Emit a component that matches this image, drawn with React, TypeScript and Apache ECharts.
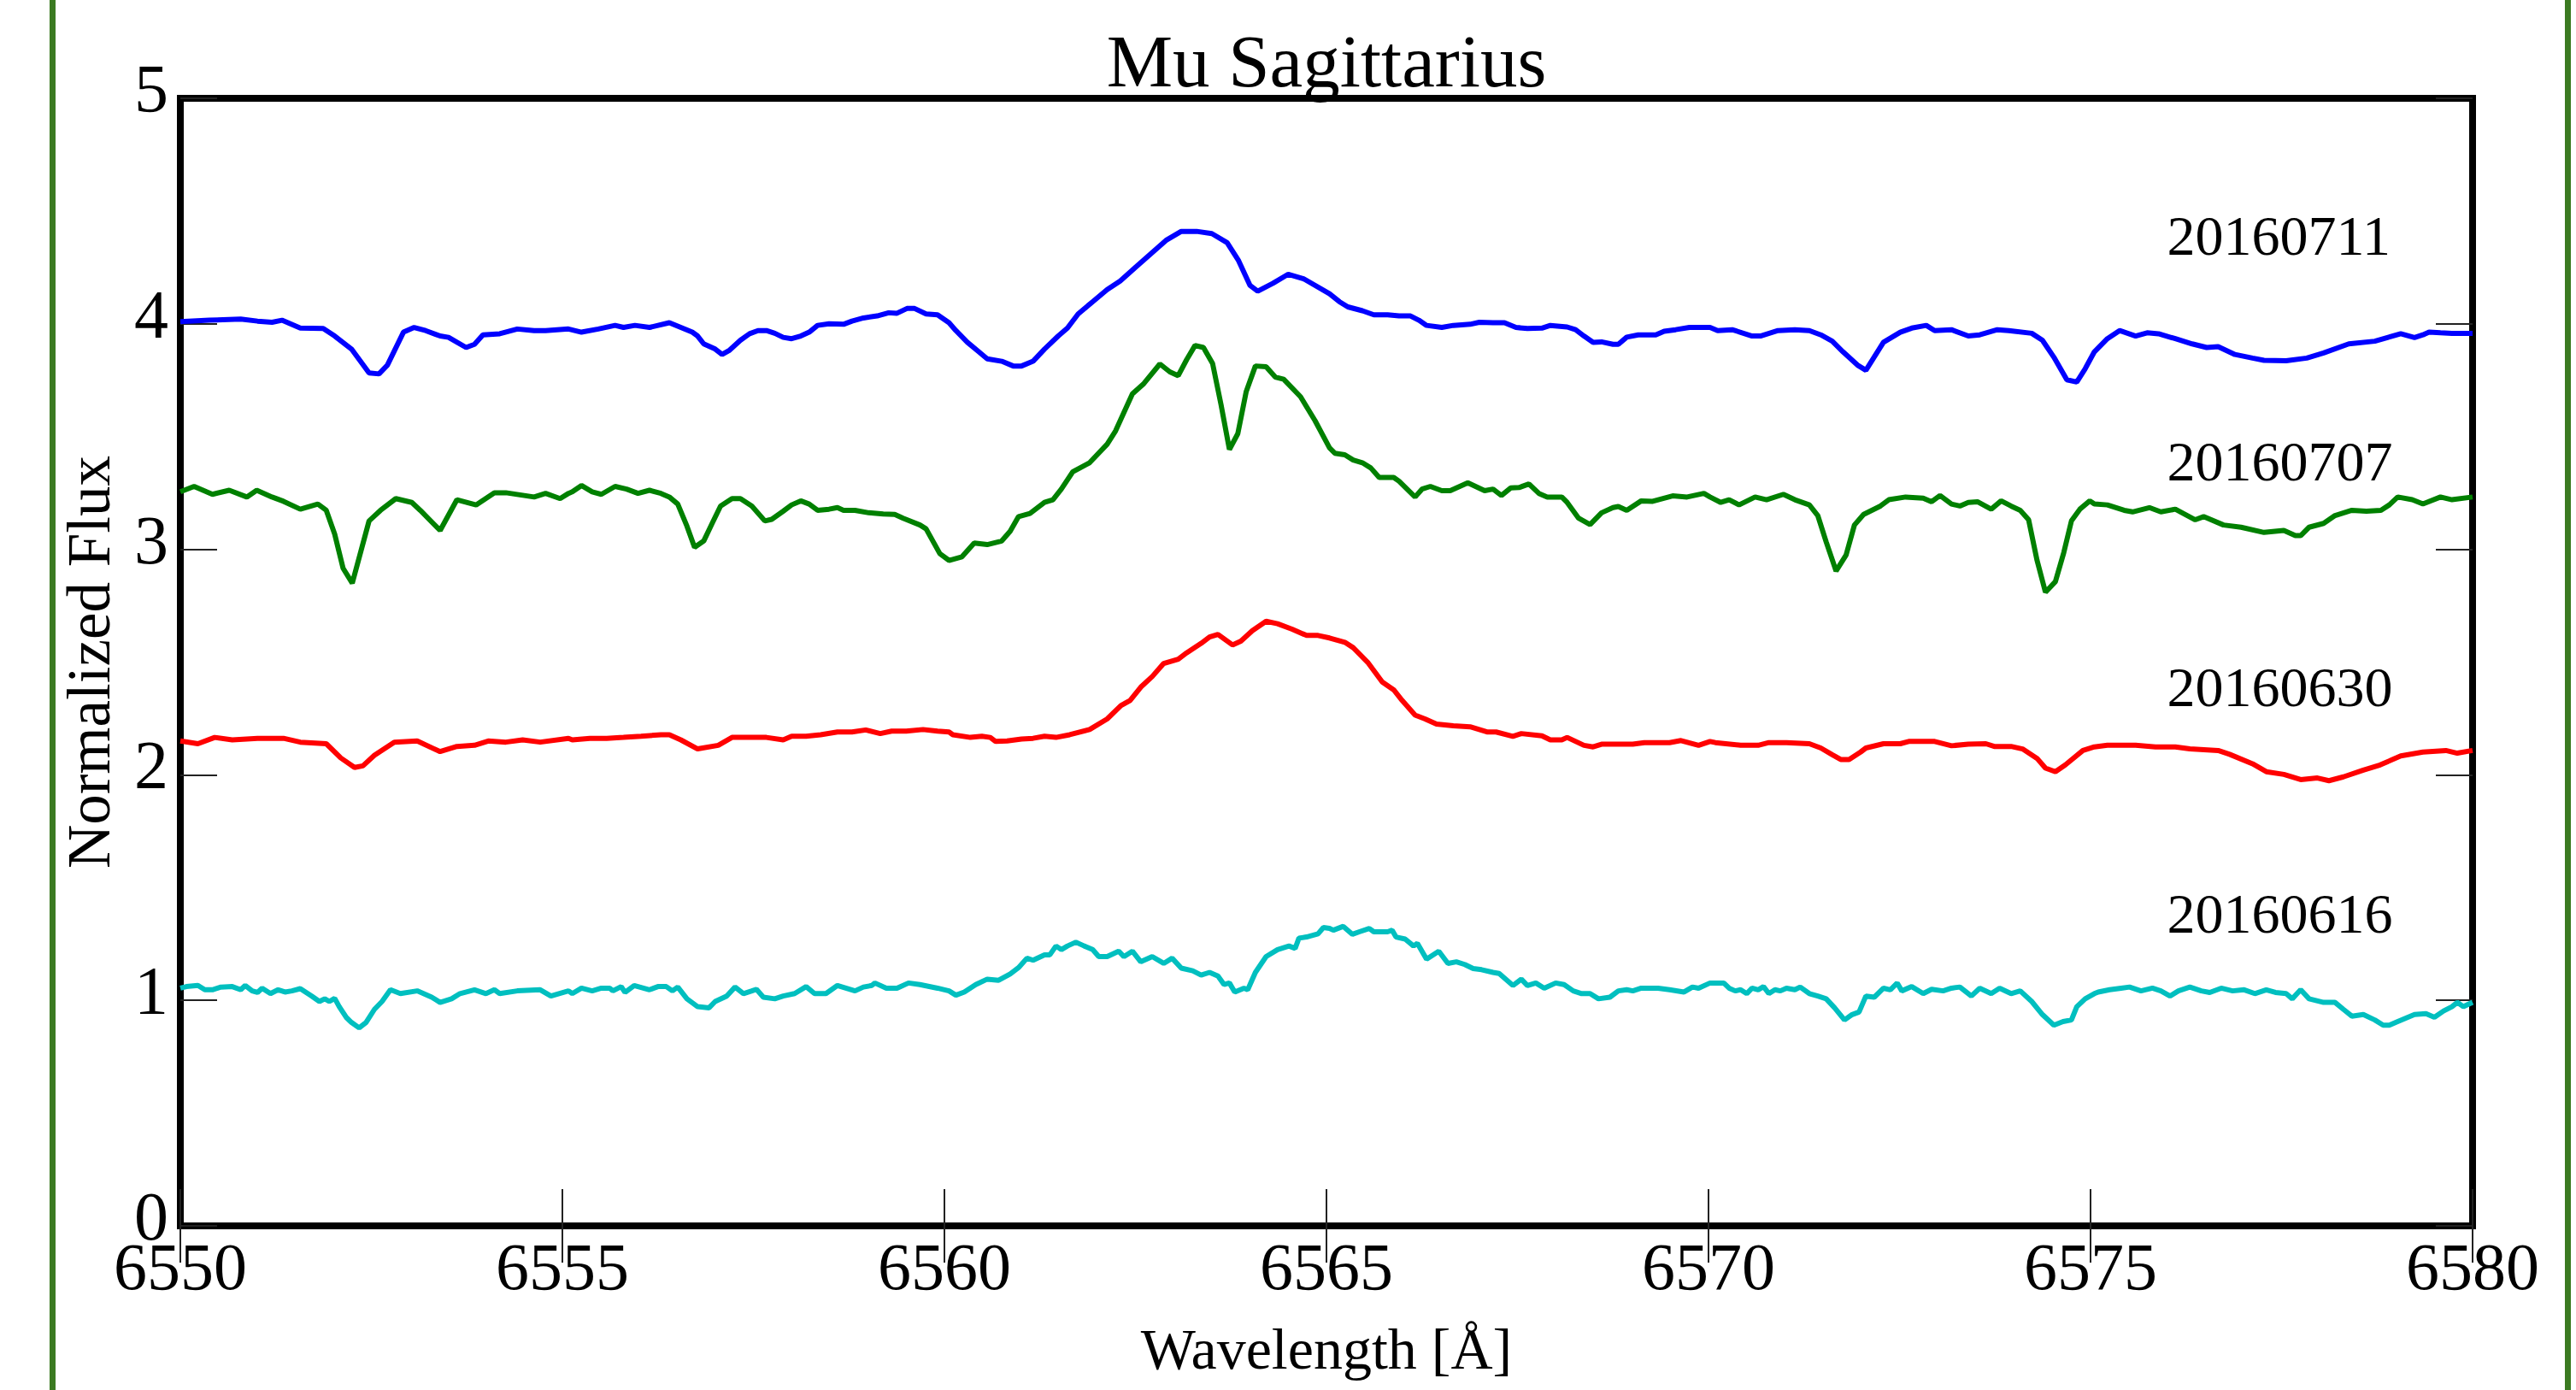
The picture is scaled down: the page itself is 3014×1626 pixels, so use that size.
import React, { useEffect, useRef } from "react";
import * as echarts from "echarts";

// Wavelength [Å] vs normalized flux
const flux20160711: [number, number][] = [
  [6550.0,4.01],[6550.38,4.016],[6550.79,4.021],[6551.01,4.012],[6551.2,4.007],[6551.33,4.016],[6551.57,3.981],[6551.87,3.979],[6552.02,3.946],[6552.24,3.888],[6552.47,3.782],[6552.6,3.778],[6552.71,3.817],[6552.92,3.963],[6553.06,3.984],[6553.21,3.97],[6553.4,3.946],[6553.51,3.94],[6553.74,3.895],[6553.85,3.909],[6553.96,3.951],[6554.18,3.956],[6554.41,3.977],[6554.63,3.97],[6554.78,3.97],[6555.08,3.977],
  [6555.25,3.963],[6555.47,3.977],[6555.69,3.993],[6555.8,3.984],[6555.95,3.993],[6556.14,3.984],[6556.4,4.005],[6556.55,3.984],[6556.7,3.963],[6556.77,3.946],[6556.85,3.911],[6557.0,3.888],[6557.09,3.864],[6557.18,3.881],[6557.33,3.927],[6557.45,3.956],[6557.56,3.97],[6557.67,3.97],[6557.78,3.958],[6557.89,3.94],[6558.0,3.934],[6558.12,3.946],[6558.23,3.963],[6558.34,3.993],[6558.49,4.0],[6558.68,3.998],[6558.79,4.012],[6558.94,4.026],[6559.12,4.035],[6559.27,4.049],[6559.38,4.047],[6559.51,4.068],[6559.61,4.068],[6559.76,4.044],[6559.91,4.04],[6560.06,4.005],
  [6560.15,3.97],[6560.3,3.918],[6560.45,3.876],[6560.56,3.845],[6560.75,3.834],[6560.9,3.813],[6561.01,3.813],[6561.16,3.834],[6561.31,3.888],[6561.49,3.946],[6561.61,3.981],[6561.75,4.044],[6561.94,4.098],[6562.13,4.152],[6562.3,4.19],[6562.5,4.25],[6562.7,4.31],[6562.9,4.37],[6563.1,4.41],[6563.3,4.41],[6563.5,4.4],[6563.7,4.36],[6563.85,4.28],[6564.0,4.17],[6564.1,4.145],[6564.3,4.18],[6564.5,4.22],[6564.7,4.2],[6565.04,4.133],
  [6565.17,4.098],[6565.28,4.075],[6565.47,4.058],[6565.62,4.04],[6565.8,4.04],[6565.95,4.035],[6566.1,4.035],[6566.21,4.016],[6566.31,3.993],[6566.51,3.984],[6566.66,3.993],[6566.88,3.998],[6567.0,4.007],[6567.18,4.005],[6567.33,4.005],[6567.48,3.984],[6567.63,3.979],[6567.82,3.981],[6567.93,3.993],[6568.15,3.986],[6568.26,3.974],[6568.37,3.946],[6568.49,3.918],[6568.6,3.92],[6568.75,3.909],[6568.82,3.909],[6568.93,3.941],[6569.08,3.951],[6569.31,3.951],[6569.42,3.967],[6569.57,3.974],[6569.75,3.984],[6570.02,3.984],
  [6570.12,3.97],[6570.31,3.974],[6570.57,3.946],[6570.68,3.946],[6570.91,3.97],[6571.13,3.974],[6571.32,3.97],[6571.47,3.951],[6571.62,3.923],[6571.76,3.876],[6571.95,3.817],[6572.06,3.794],[6572.29,3.918],[6572.51,3.963],[6572.66,3.981],[6572.85,3.993],[6572.96,3.97],[6573.18,3.974],[6573.4,3.946],[6573.55,3.951],[6573.78,3.974],[6573.93,3.97],[6574.23,3.958],[6574.37,3.927],[6574.52,3.852],[6574.69,3.752],[6574.82,3.742],[6574.93,3.801],[6575.05,3.876],
  [6575.22,3.934],[6575.38,3.97],[6575.59,3.946],[6575.74,3.96],[6575.89,3.956],[6576.11,3.934],[6576.33,3.911],[6576.52,3.895],[6576.67,3.899],[6576.89,3.864],[6577.12,3.848],[6577.27,3.838],[6577.56,3.836],[6577.83,3.848],[6578.05,3.871],[6578.38,3.911],[6578.72,3.923],[6579.06,3.956],[6579.24,3.939],[6579.35,3.951],[6579.43,3.963],[6579.58,3.96],[6579.73,3.958],[6580.0,3.958]
];

const flux20160707: [number, number][] = [
  [6550,3.255],[6550.18,3.279],[6550.42,3.244],[6550.64,3.262],[6550.87,3.232],[6551.0,3.262],[6551.2,3.232],[6551.35,3.213],[6551.57,3.178],[6551.8,3.201],[6551.91,3.173],[6552.02,3.068],[6552.13,2.916],[6552.25,2.85],[6552.47,3.126],[6552.62,3.173],[6552.82,3.225],[6553.03,3.208],[6553.14,3.173],[6553.4,3.084],[6553.62,3.22],[6553.87,3.197],[6554.11,3.251],[6554.26,3.251],[6554.63,3.232],[6554.78,3.248],[6554.97,3.225],[6555.08,3.248],
  [6555.13,3.255],[6555.25,3.283],[6555.39,3.255],[6555.51,3.244],[6555.69,3.279],[6555.84,3.267],[6555.99,3.248],[6556.14,3.262],[6556.29,3.248],[6556.4,3.232],[6556.51,3.201],[6556.63,3.103],[6556.73,3.009],[6556.85,3.037],[6556.96,3.115],[6557.07,3.192],[6557.22,3.225],[6557.33,3.225],[6557.48,3.192],[6557.65,3.126],[6557.74,3.133],[6557.89,3.169],[6558.0,3.197],[6558.12,3.215],[6558.23,3.201],[6558.34,3.173],[6558.49,3.178],[6558.6,3.185],[6558.68,3.173],[6558.83,3.173],[6559.01,3.162],[6559.2,3.157],[6559.35,3.155],[6559.46,3.138],[6559.68,3.108],[6559.76,3.091],[6559.94,2.981],[6560.06,2.951],
  [6560.23,2.967],[6560.39,3.028],[6560.56,3.021],[6560.75,3.037],[6560.86,3.08],[6560.97,3.145],[6561.12,3.159],[6561.31,3.208],[6561.42,3.22],[6561.53,3.267],[6561.68,3.344],[6561.9,3.384],[6562.13,3.466],[6562.24,3.525],[6562.46,3.689],[6562.61,3.735],[6562.82,3.822],[6562.95,3.787],[6563.06,3.77],[6563.17,3.841],[6563.28,3.904],[6563.39,3.895],[6563.51,3.824],[6563.62,3.642],[6563.73,3.443],[6563.84,3.513],[6563.95,3.7],[6564.07,3.813],[6564.21,3.81],[6564.33,3.764],[6564.44,3.754],[6564.66,3.677],[6564.85,3.571],[6565.04,3.45],
  [6565.11,3.426],[6565.24,3.419],[6565.35,3.396],[6565.47,3.384],[6565.58,3.361],[6565.69,3.319],[6565.88,3.319],[6565.95,3.302],[6566.16,3.232],[6566.25,3.267],[6566.36,3.279],[6566.51,3.26],[6566.62,3.26],[6566.85,3.295],[6567.07,3.26],[6567.18,3.267],[6567.29,3.239],[6567.41,3.272],[6567.52,3.274],[6567.65,3.29],[6567.78,3.248],[6567.89,3.232],[6568.08,3.232],[6568.15,3.208],[6568.3,3.138],[6568.45,3.11],[6568.6,3.162],[6568.75,3.185],[6568.82,3.19],[6568.93,3.173],[6569.12,3.215],[6569.27,3.213],[6569.53,3.237],[6569.72,3.232],[6569.94,3.248],[6570.02,3.232],
  [6570.16,3.208],[6570.27,3.22],[6570.4,3.197],[6570.61,3.232],[6570.76,3.22],[6570.98,3.244],[6571.13,3.22],[6571.32,3.197],[6571.43,3.15],[6571.54,3.033],[6571.67,2.904],[6571.8,2.974],[6571.91,3.108],[6572.03,3.155],[6572.25,3.192],[6572.36,3.22],[6572.58,3.232],[6572.81,3.227],[6572.92,3.211],[6573.03,3.239],[6573.18,3.201],[6573.29,3.192],[6573.4,3.208],[6573.52,3.211],[6573.7,3.178],[6573.83,3.215],[6573.96,3.192],[6574.08,3.173],[6574.19,3.131],[6574.3,2.951],[6574.41,2.81],[6574.54,2.857],[6574.65,2.986],[6574.75,3.126],[6574.86,3.178],[6574.99,3.215],[6575.05,3.201],
  [6575.22,3.197],[6575.44,3.173],[6575.55,3.166],[6575.77,3.185],[6575.92,3.166],[6576.11,3.178],[6576.37,3.131],[6576.48,3.145],[6576.74,3.108],[6576.97,3.098],[6577.27,3.075],[6577.53,3.084],[6577.68,3.061],[6577.75,3.061],[6577.86,3.098],[6578.05,3.115],[6578.2,3.15],[6578.42,3.173],[6578.61,3.169],[6578.8,3.173],[6578.91,3.197],[6579.02,3.232],[6579.21,3.22],[6579.35,3.201],[6579.58,3.232],[6579.73,3.22],[6580.0,3.232]
];

const flux20160630: [number, number][] = [
  [6550,2.15],[6550.23,2.138],[6550.45,2.166],[6550.68,2.155],[6551.01,2.162],[6551.35,2.162],[6551.57,2.145],[6551.91,2.138],[6552.1,2.075],[6552.28,2.033],[6552.39,2.04],[6552.54,2.087],[6552.8,2.145],[6553.1,2.15],[6553.4,2.103],[6553.62,2.126],[6553.85,2.131],[6554.03,2.15],[6554.26,2.145],[6554.48,2.155],[6554.71,2.145],[6555.08,2.162],
  [6555.13,2.155],[6555.36,2.162],[6555.58,2.162],[6555.8,2.166],[6556.03,2.171],[6556.29,2.178],[6556.4,2.178],[6556.55,2.155],[6556.77,2.115],[6557.04,2.131],[6557.22,2.166],[6557.45,2.166],[6557.67,2.166],[6557.89,2.155],[6558.0,2.171],[6558.19,2.171],[6558.38,2.178],[6558.6,2.19],[6558.79,2.19],[6558.97,2.199],[6559.16,2.183],[6559.31,2.194],[6559.5,2.194],[6559.72,2.201],[6559.91,2.194],[6560.06,2.19],
  [6560.11,2.178],[6560.34,2.166],[6560.49,2.171],[6560.6,2.166],[6560.67,2.148],[6560.82,2.15],[6561.01,2.159],[6561.16,2.162],[6561.31,2.171],[6561.46,2.166],[6561.64,2.178],[6561.9,2.201],[6562.13,2.248],[6562.31,2.307],[6562.43,2.33],[6562.57,2.389],[6562.72,2.436],[6562.87,2.494],[6563.06,2.513],[6563.17,2.541],[6563.36,2.583],[6563.47,2.611],[6563.58,2.623],[6563.77,2.576],[6563.88,2.593],[6564.03,2.639],[6564.21,2.681],[6564.36,2.67],[6564.55,2.646],[6564.74,2.618],[6564.89,2.618],[6565.04,2.607],
  [6565.24,2.588],[6565.35,2.564],[6565.54,2.499],[6565.73,2.412],[6565.88,2.377],[6565.99,2.33],[6566.16,2.265],[6566.29,2.248],[6566.44,2.225],[6566.66,2.218],[6566.88,2.213],[6567.11,2.19],[6567.22,2.19],[6567.44,2.171],[6567.55,2.183],[6567.82,2.173],[6567.93,2.155],[6568.08,2.155],[6568.15,2.166],[6568.37,2.131],[6568.49,2.124],[6568.6,2.136],[6568.79,2.136],[6569.01,2.136],[6569.16,2.143],[6569.34,2.143],[6569.49,2.143],[6569.64,2.152],[6569.87,2.131],[6570.02,2.148],
  [6570.09,2.143],[6570.42,2.131],[6570.65,2.131],[6570.79,2.143],[6571.02,2.143],[6571.32,2.138],[6571.47,2.119],[6571.62,2.089],[6571.73,2.068],[6571.84,2.068],[6571.99,2.101],[6572.06,2.119],[6572.29,2.138],[6572.51,2.138],[6572.62,2.148],[6572.96,2.148],[6573.18,2.129],[6573.4,2.136],[6573.63,2.138],[6573.74,2.126],[6573.96,2.126],[6574.11,2.115],[6574.3,2.073],[6574.41,2.03],[6574.54,2.014],[6574.67,2.044],[6574.9,2.108],[6575.05,2.124],
  [6575.22,2.131],[6575.59,2.131],[6575.85,2.124],[6576.11,2.124],[6576.3,2.115],[6576.67,2.108],[6576.82,2.091],[6577.12,2.049],[6577.3,2.014],[6577.53,2.002],[6577.75,1.979],[6577.97,1.986],[6578.12,1.974],[6578.31,1.991],[6578.57,2.021],[6578.79,2.044],[6579.06,2.084],[6579.35,2.101],[6579.65,2.108],[6579.8,2.096],[6580.0,2.108]
];

const flux20160616: [number, number][] = [
  [6550,1.054],[6550.08,1.061],[6550.23,1.066],[6550.32,1.047],[6550.42,1.047],[6550.53,1.059],[6550.68,1.061],[6550.79,1.047],[6550.85,1.066],[6550.94,1.042],[6551.01,1.035],[6551.07,1.054],[6551.18,1.03],[6551.28,1.047],[6551.37,1.037],[6551.46,1.042],[6551.57,1.052],[6551.72,1.019],[6551.82,0.995],[6551.89,1.007],[6551.95,0.995],[6552.02,1.009],[6552.08,0.972],[6552.17,0.925],[6552.24,0.902],[6552.34,0.878],[6552.43,0.902],[6552.54,0.96],[6552.64,0.995],[6552.75,1.047],[6552.88,1.03],[6553.1,1.042],[6553.29,1.014],[6553.4,0.991],[6553.55,1.007],[6553.66,1.03],[6553.85,1.047],[6554.0,1.03],[6554.11,1.047],[6554.18,1.03],[6554.41,1.042],[6554.71,1.047],[6554.85,1.019],[6555.08,1.042],
  [6555.13,1.03],[6555.25,1.054],[6555.39,1.042],[6555.51,1.054],[6555.62,1.054],[6555.66,1.042],[6555.77,1.061],[6555.82,1.035],[6555.94,1.066],[6556.14,1.047],[6556.25,1.061],[6556.36,1.061],[6556.44,1.042],[6556.51,1.059],[6556.63,1.007],[6556.77,0.972],[6556.92,0.967],[6557.0,0.995],[6557.15,1.019],[6557.26,1.059],[6557.37,1.03],[6557.48,1.042],[6557.54,1.049],[6557.63,1.014],[6557.78,1.007],[6557.89,1.019],[6558.04,1.03],[6558.19,1.061],[6558.3,1.03],[6558.45,1.03],[6558.6,1.066],[6558.83,1.042],[6558.94,1.059],[6559.05,1.066],[6559.09,1.077],[6559.24,1.054],[6559.38,1.054],[6559.53,1.077],[6559.68,1.07],[6559.91,1.054],[6560.06,1.042],
  [6560.15,1.023],[6560.26,1.037],[6560.41,1.07],[6560.56,1.094],[6560.71,1.089],[6560.86,1.117],[6560.97,1.145],[6561.08,1.187],[6561.16,1.178],[6561.31,1.202],[6561.38,1.202],[6561.46,1.241],[6561.53,1.225],[6561.61,1.241],[6561.72,1.258],[6561.83,1.241],[6561.94,1.225],[6562.02,1.194],[6562.13,1.194],[6562.28,1.218],[6562.35,1.194],[6562.46,1.218],[6562.57,1.171],[6562.72,1.194],[6562.87,1.164],[6562.98,1.187],[6563.1,1.143],[6563.25,1.131],[6563.36,1.112],[6563.47,1.124],[6563.58,1.108],[6563.66,1.07],[6563.73,1.077],[6563.8,1.037],[6563.92,1.054],[6563.97,1.047],[6564.07,1.124],[6564.21,1.194],[6564.36,1.225],[6564.51,1.241],[6564.59,1.23],[6564.64,1.276],[6564.74,1.281],[6564.89,1.295],[6564.96,1.323],[6565.04,1.319],
  [6565.09,1.311],[6565.22,1.328],[6565.34,1.293],[6565.43,1.304],[6565.56,1.319],[6565.62,1.304],[6565.8,1.304],[6565.86,1.311],[6565.91,1.281],[6566.03,1.272],[6566.14,1.241],[6566.19,1.253],[6566.31,1.183],[6566.47,1.218],[6566.59,1.164],[6566.7,1.171],[6566.81,1.159],[6566.92,1.141],[6567.03,1.136],[6567.18,1.124],[6567.26,1.119],[6567.44,1.066],[6567.55,1.094],[6567.63,1.066],[6567.74,1.077],[6567.85,1.054],[6568.0,1.077],[6568.11,1.07],[6568.23,1.042],[6568.34,1.03],[6568.45,1.03],[6568.56,1.007],[6568.71,1.014],[6568.82,1.042],[6568.93,1.047],[6569.01,1.042],[6569.12,1.054],[6569.34,1.054],[6569.49,1.047],[6569.68,1.037],[6569.79,1.059],[6569.87,1.054],[6570.02,1.077],
  [6570.2,1.077],[6570.27,1.054],[6570.35,1.042],[6570.42,1.047],[6570.5,1.03],[6570.57,1.054],[6570.65,1.047],[6570.72,1.061],[6570.79,1.03],[6570.87,1.047],[6570.94,1.042],[6571.02,1.054],[6571.13,1.047],[6571.2,1.059],[6571.32,1.03],[6571.43,1.019],[6571.54,1.007],[6571.65,0.967],[6571.78,0.913],[6571.88,0.937],[6571.97,0.948],[6572.06,1.019],[6572.17,1.014],[6572.29,1.054],[6572.38,1.047],[6572.47,1.077],[6572.53,1.042],[6572.66,1.061],[6572.81,1.03],[6572.92,1.049],[6573.07,1.042],[6573.18,1.054],[6573.29,1.059],[6573.44,1.019],[6573.55,1.054],[6573.7,1.03],[6573.81,1.054],[6573.96,1.03],[6574.08,1.042],[6574.23,0.995],[6574.37,0.937],[6574.52,0.89],[6574.64,0.906],[6574.75,0.913],[6574.82,0.972],[6574.93,1.007],[6575.05,1.03],
  [6575.1,1.037],[6575.25,1.047],[6575.4,1.054],[6575.51,1.059],[6575.66,1.042],[6575.81,1.054],[6575.92,1.042],[6576.04,1.019],[6576.15,1.042],[6576.3,1.059],[6576.45,1.042],[6576.56,1.035],[6576.71,1.054],[6576.86,1.042],[6577.01,1.047],[6577.15,1.03],[6577.3,1.047],[6577.42,1.035],[6577.56,1.03],[6577.64,1.007],[6577.75,1.047],[6577.86,1.007],[6578.05,0.991],[6578.2,0.991],[6578.31,0.96],[6578.42,0.93],[6578.57,0.937],[6578.72,0.913],[6578.83,0.89],[6578.91,0.89],[6579.02,0.906],[6579.24,0.937],[6579.39,0.941],[6579.5,0.925],[6579.62,0.953],[6579.73,0.972],[6579.8,0.991],[6579.88,0.972],[6580.0,0.991]
];

const seriesNames = ["20160711", "20160707", "20160630", "20160616"];
const seriesColors = ["#0000ff", "#008000", "#ff0000", "#00bfbf"];
const seriesData = [flux20160711, flux20160707, flux20160630, flux20160616];

// Date label anchors (wavelength, flux)
const labelX = [6576, 6576, 6576, 6576];
const labelY = [4.39, 3.39, 2.39, 1.385];

const xTicksMin = 6550, xTicksMax = 6580, xTickStep = 5;
const yTicksMin = 0, yTicksMax = 5, yTickStep = 1;

const FONT = "Liberation Serif";

export default function App() {
  const ref = useRef<HTMLDivElement>(null);
  useEffect(() => {
    if (!ref.current) return;
    const chart = echarts.init(ref.current, undefined, { renderer: "svg" });
    const tick = { show: true, inside: true, length: 43, lineStyle: { color: "#222", width: 2 } };
    const option: any = {
      animation: false,
      backgroundColor: "#ffffff",
      grid: {
        left: 211, top: 115, right: 121, bottom: 192,
        show: true, borderColor: "#000", borderWidth: 8, backgroundColor: "transparent",
      },
      graphic: [
        { type: "rect", shape: { x: 58, y: 0, width: 7, height: 1626 }, style: { fill: "#3b7a21" }, z: 10 },
        { type: "rect", shape: { x: 3001, y: 0, width: 7, height: 1626 }, style: { fill: "#3b7a21" }, z: 10 },
        {
          type: "text", x: 1552, y: 71, z: 10,
          style: { text: "Mu Sagittarius", fontFamily: FONT, fontSize: 87, fill: "#000", textAlign: "center", textVerticalAlign: "middle" },
        },
      ],
      xAxis: [
        {
          type: "value", position: "bottom", min: xTicksMin, max: xTicksMax, interval: xTickStep,
          axisLine: { show: false }, axisTick: tick, splitLine: { show: false },
          axisLabel: { fontFamily: FONT, fontSize: 78, color: "#000", margin: 8, formatter: (v: number) => String(v) },
          name: "Wavelength [Å]", nameLocation: "middle", nameGap: 110,
          nameTextStyle: { fontFamily: FONT, fontSize: 68, color: "#000" },
        },
        {
          type: "value", position: "top", min: xTicksMin, max: xTicksMax, interval: xTickStep,
          axisLine: { show: false }, axisTick: tick, splitLine: { show: false }, axisLabel: { show: false },
        },
      ],
      yAxis: [
        {
          type: "value", position: "left", min: yTicksMin, max: yTicksMax, interval: yTickStep,
          axisLine: { show: false }, axisTick: tick, splitLine: { show: false },
          axisLabel: {
            fontFamily: FONT, fontSize: 80, color: "#000", margin: 14,
            verticalAlign: "bottom", lineHeight: 22, formatter: (v: number) => String(v),
          },
          name: "Normalized Flux", nameLocation: "middle", nameGap: 72, nameRotate: 90,
          nameTextStyle: { fontFamily: FONT, fontSize: 71, color: "#000" },
        },
        {
          type: "value", position: "right", min: yTicksMin, max: yTicksMax, interval: yTickStep,
          axisLine: { show: false }, axisTick: tick, splitLine: { show: false }, axisLabel: { show: false },
        },
      ],
      series: [
        ...seriesData.map((d, i) => ({
          type: "line", name: seriesNames[i], data: d, showSymbol: false, symbol: "none",
          lineStyle: { color: seriesColors[i], width: 6 }, itemStyle: { color: seriesColors[i] },
          z: 3,
        })),
        {
          type: "scatter", name: "labels", symbolSize: 0, z: 4,
          data: seriesNames.map((n, i) => ({ value: [labelX[i], labelY[i]], name: n })),
          itemStyle: { opacity: 1 },
          label: {
            show: true, position: "right", distance: 0, formatter: (p: any) => p.name,
            fontFamily: FONT, fontSize: 66, color: "#000", opacity: 1,
          },
        },
      ],
    };
    chart.setOption(option);
    return () => chart.dispose();
  }, []);
  return <div ref={ref} style={{ position: "fixed", left: 0, top: 0, width: 3014, height: 1626, background: "#fff" }} />;
}
